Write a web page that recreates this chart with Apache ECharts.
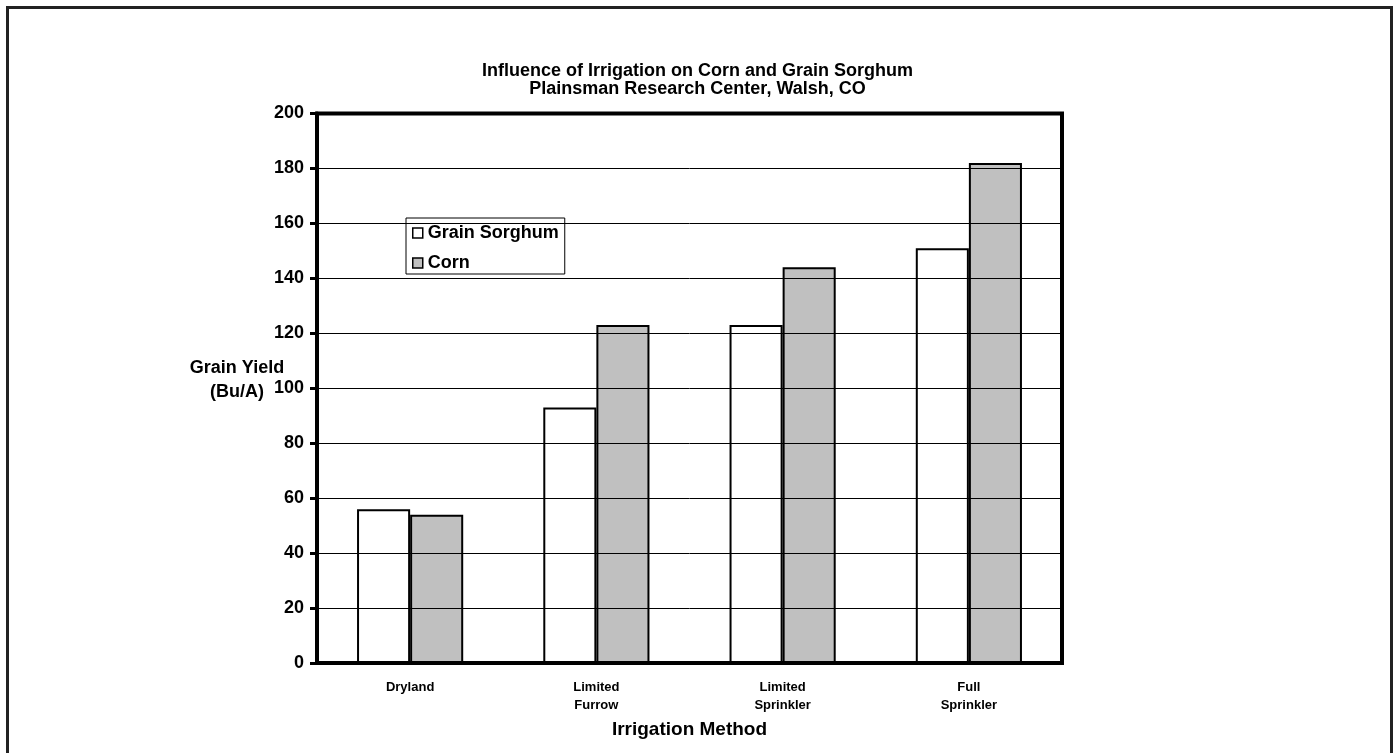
<!DOCTYPE html>
<html>
<head>
<meta charset="utf-8">
<script src="https://cdn.jsdelivr.net/npm/echarts@6/dist/echarts.min.js"></script>
<style>
html,body{margin:0;padding:0;background:#fff;}
#c{width:1395px;height:753px;}
</style>
</head>
<body>
<div id="c"></div>
<script>
const categories = ['Dryland', 'Limited\nFurrow', 'Limited\nSprinkler', 'Full\nSprinkler'];
const sorghum = [56, 93, 123, 151];
const corn = [54, 123, 144, 182];
const seriesNames = ['Grain Sorghum', 'Corn'];
const titleLines = ['Influence of Irrigation on Corn and Grain Sorghum', 'Plainsman Research Center, Walsh, CO'];
const yTicks = {min: 0, max: 200, interval: 20};

const F = 'Liberation Sans, Arial, sans-serif';
const chart = echarts.init(document.getElementById('c'));
chart.setOption({
  animation: false,
  backgroundColor: '#fff',
  title: {
    text: titleLines.join('\n'),
    left: 'center', top: 57,
    textStyle: {fontFamily: F, fontWeight: 'bold', fontSize: 18, lineHeight: 18, color: '#000'}
  },
  graphic: [
    {type: 'rect', shape: {x: 7.5, y: 7.5, width: 1384, height: 800},
     style: {fill: 'none', stroke: '#222', lineWidth: 3}, z: 0},
    {type: 'text', x: 237, y: 356, style: {text: 'Grain Yield\n(Bu/A)', align: 'center',
      font: 'bold 18px ' + F, lineHeight: 24, fill: '#000'}}
  ],
  legend: {
    left: 406, top: 218, orient: 'vertical',
    padding: [6, 6, 2, 6], itemGap: 12,
    backgroundColor: '#fff', borderColor: '#000', borderWidth: 1,
    itemWidth: 10, itemHeight: 10,
    icon: 'rect',
    textStyle: {fontFamily: F, fontWeight: 'bold', fontSize: 18, color: '#000'},
    data: seriesNames.map(n => ({name: n, itemStyle: {borderColor: '#000', borderWidth: 1.5}}))
  },
  grid: {left: 317, top: 113.5, right: 333, bottom: 90, show: true, borderColor: '#000', borderWidth: 4, backgroundColor: 'transparent', z: 4},
  xAxis: {
    type: 'category', data: categories,
    name: 'Irrigation Method', nameLocation: 'middle', nameGap: 57,
    nameTextStyle: {fontFamily: F, fontWeight: 'bold', fontSize: 19, color: '#000'},
    axisLine: {lineStyle: {color: '#000', width: 4}},
    axisTick: {show: false},
    axisLabel: {fontFamily: F, fontWeight: 'bold', fontSize: 13, lineHeight: 18, color: '#000', margin: 15, verticalAlign: 'top', interval: 0}
  },
  yAxis: {
    type: 'value', min: yTicks.min, max: yTicks.max, interval: yTicks.interval,
    z: 5,
    axisLine: {show: true, lineStyle: {color: '#000', width: 4}},
    axisTick: {show: true, length: 7, lineStyle: {color: '#000', width: 3}},
    axisLabel: {fontFamily: F, fontWeight: 'bold', fontSize: 18, color: '#000', margin: 13},
    splitLine: {lineStyle: {color: '#000', width: 1}}
  },
  series: [
    {name: seriesNames[0], type: 'bar', data: sorghum, z: 1, barGap: '0%', barCategoryGap: '43%',
     itemStyle: {color: '#fff', borderColor: '#000', borderWidth: 2}},
    {name: seriesNames[1], type: 'bar', data: corn, z: 1,
     itemStyle: {color: '#c0c0c0', borderColor: '#000', borderWidth: 2}}
  ]
});
</script>
</body>
</html>
